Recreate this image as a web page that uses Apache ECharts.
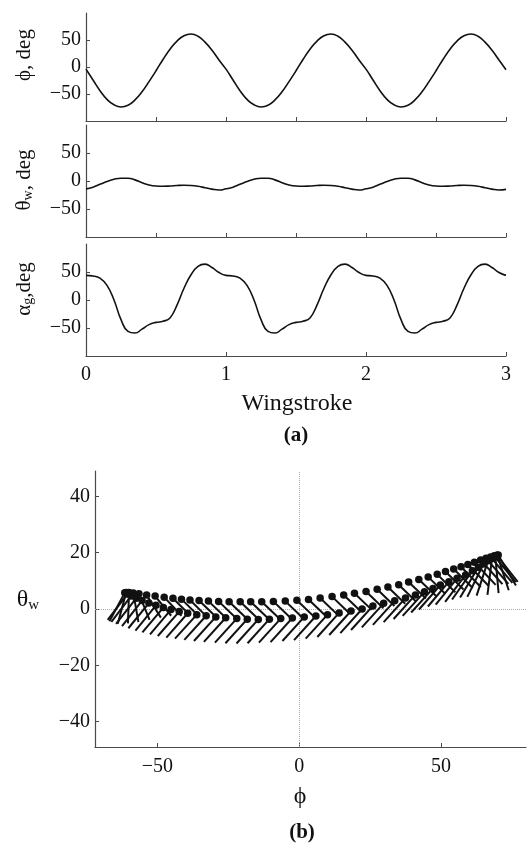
<!DOCTYPE html>
<html>
<head>
<meta charset="utf-8">
<script src="https://cdn.jsdelivr.net/npm/echarts@6/dist/echarts.min.js"></script>
<style>
  html, body { margin: 0; padding: 0; background: #fff; }
  #chart { width: 527px; height: 847px; }
</style>
</head>
<body>
<div id="chart"></div>
<script>
// ---- (a) time histories over three wingstrokes ----
const strokeTime = [
  0, 0.05, 0.1, 0.15, 0.2, 0.25, 0.3, 0.35, 0.4, 0.45, 0.5, 0.55, 0.6, 0.65, 0.7, 0.75, 0.8, 0.85, 0.9, 0.95,
  1, 1.05, 1.1, 1.15, 1.2, 1.25, 1.3, 1.35, 1.4, 1.45, 1.5, 1.55, 1.6, 1.65, 1.7, 1.75, 1.8, 1.85, 1.9, 1.95,
  2, 2.05, 2.1, 2.15, 2.2, 2.25, 2.3, 2.35, 2.4, 2.45, 2.5, 2.55, 2.6, 2.65, 2.7, 2.75, 2.8, 2.85, 2.9, 2.95,
  3
];
const phiDeg = [
  -4, -24, -44, -60, -70, -74, -71, -61, -46, -27, -7, 14, 33, 48, 58, 61, 57, 46, 31, 13,
  -4, -24, -44, -60, -70, -74, -71, -61, -46, -27, -7, 14, 33, 48, 58, 61, 57, 46, 31, 13,
  -4, -24, -44, -60, -70, -74, -71, -61, -46, -27, -7, 14, 33, 48, 58, 61, 57, 46, 31, 13,
  -5
];
const thetaDeg = [
  -14, -11, -6, -1, 3, 5, 5, 2, -3, -7, -9, -9.5, -9, -8, -7.5, -8, -9.5, -12, -14.5, -16,
  -14, -11, -6, -1, 3, 5, 5, 2, -3, -7, -9, -9.5, -9, -8, -7.5, -8, -9.5, -12, -14.5, -16,
  -14, -11, -6, -1, 3, 5, 5, 2, -3, -7, -9, -9.5, -9, -8, -7.5, -8, -9.5, -12, -14.5, -16,
  -15
];
const alphaDeg = [
  44, 43, 39, 26, 0, -35, -56, -59, -52, -44, -40, -38, -32, -9, 21, 45, 60, 64, 58, 49,
  44, 43, 39, 26, 0, -35, -56, -59, -52, -44, -40, -38, -32, -9, 21, 45, 60, 64, 58, 49,
  44, 43, 39, 26, 0, -35, -56, -59, -52, -44, -40, -38, -32, -9, 21, 45, 60, 64, 58, 49,
  44
];
const strokeTicks = [-50, 0, 50];

// ---- (b) wing chord positions, one loop: upper track then lower track ----
const upperPhi = [
  -61.5, -61.0, -60.0, -58.5, -56.5, -53.8, -50.8, -47.6, -44.5, -41.5, -38.5, -35.3, -32.0, -28.4, -24.7,
  -20.8, -17.1, -13.2, -9.1, -4.9, -0.8, 3.3, 7.4, 11.6, 15.7, 19.5, 23.6, 27.5, 31.3, 35.1,
  38.6, 42.2, 45.5, 48.7, 51.6, 54.5, 57.1, 59.5, 61.8, 64.0, 65.9, 67.5, 68.8, 69.7
];
const upperTheta = [
  5.8, 5.9, 5.9, 5.7, 5.4, 5.0, 4.6, 4.2, 3.8, 3.5, 3.2, 3.0, 2.8, 2.7, 2.6,
  2.6, 2.6, 2.6, 2.7, 2.8, 3.1, 3.4, 3.9, 4.4, 5.0, 5.6, 6.2, 7.0, 7.8, 8.6,
  9.6, 10.5, 11.4, 12.3, 13.3, 14.2, 15.0, 15.8, 16.6, 17.4, 18.0, 18.5, 18.9, 19.1
];
const upperChordAngle = [
  -118, -105, -92, -80, -68, -58, -51, -47, -45, -45, -45, -44, -44, -44, -44,
  -44, -44, -44, -44, -44, -44, -44, -44, -44, -44, -44, -44, -44, -44, -44,
  -44, -44, -45, -45, -45, -45, -46, -46, -47, -48, -49, -50, -51, -52
];
const upperChordLength = [
  11.5, 11.5, 11, 10.5, 10, 9.5, 9, 9, 8.5, 8.5, 8.5, 8.5, 8.5, 8.5, 8.5,
  8.5, 8.5, 8.5, 8.5, 8.5, 8.5, 8.5, 8.5, 8.5, 8.5, 8.5, 8.5, 8.5, 8.5, 8.5,
  8.5, 8.5, 8.5, 9, 9, 9.5, 10, 10.5, 11, 11.5, 12, 12, 12, 12
];
const lowerPhi = [
  70.2, 69.9, 69.2, 68.0, 66.6, 65.0, 63.2, 61.1, 58.7, 55.7, 52.8, 49.8, 47.2, 44.2, 41.0,
  37.5, 33.7, 29.8, 26.0, 22.2, 18.3, 14.1, 10.0, 5.9, 1.8, -2.4, -6.5, -10.5, -14.4, -18.3,
  -22.0, -25.9, -29.4, -32.8, -36.1, -39.3, -42.3, -45.2, -47.9, -50.5, -53.0, -55.4, -57.5, -59.3, -60.6
];
const lowerTheta = [
  19.2, 19.0, 18.6, 17.9, 17.1, 16.0, 14.8, 13.6, 12.1, 10.9, 9.7, 8.5, 7.3, 6.1, 5.0,
  3.9, 2.9, 2.0, 1.1, 0.0, -0.7, -1.4, -2.0, -2.5, -2.8, -3.2, -3.4, -3.6, -3.7, -3.6,
  -3.4, -3.1, -2.8, -2.4, -2.0, -1.5, -0.9, -0.2, 0.5, 1.3, 2.1, 3.0, 3.8, 4.6, 5.3
];
const lowerChordAngle = [
  -60, -72, -85, -97, -108, -116, -121, -125, -127, -129, -130, -131, -132, -132, -132,
  -132, -132, -132, -132, -132, -132, -132, -132, -132, -132, -132, -132, -132, -132, -132,
  -132, -132, -132, -132, -132, -131, -131, -130, -130, -129, -129, -128, -128, -127, -127
];
const lowerChordLength = [
  12.5, 13, 13, 13, 13, 13, 12.5, 12.5, 12, 12, 11.5, 11.5, 11.5, 11.5, 11.5,
  11.5, 11.5, 11.5, 11.5, 11.5, 11.5, 11.5, 11.5, 11.5, 11.5, 11.5, 11.5, 11.5, 11.5, 11.5,
  11.5, 11.5, 11.5, 11.5, 11.5, 11.5, 11.5, 11.5, 11.5, 11.5, 11.5, 11.5, 11.5, 11.5, 11.5
];
const phiTicks = [-50, 0, 50];
const thetaTicks = [-40, -20, 0, 20, 40];

const serif = '"Liberation Serif", "DejaVu Serif", serif';
const ink = '#111';
const axisGrey = '#4a4a4a';
const minus = (v) => String(v).replace('-', '\u2212');

const zip = (a, b) => a.map((v, i) => [v, b[i]]);
const wingPoints = zip(upperPhi, upperTheta).concat(zip(lowerPhi, lowerTheta));
const chordData = upperPhi.map((p, i) => [p, upperTheta[i], upperChordAngle[i], upperChordLength[i]])
  .concat(lowerPhi.map((p, i) => [p, lowerTheta[i], lowerChordAngle[i], lowerChordLength[i]]));

const renderChord = (params, api) => {
  const phi = api.value(0);
  const theta = api.value(1);
  const ang = (api.value(2) * Math.PI) / 180;
  const len = api.value(3);
  const p0 = api.coord([phi, theta]);
  const p1 = api.coord([phi + len * Math.cos(ang), theta + len * Math.sin(ang)]);
  return {
    type: 'line',
    shape: { x1: p0[0], y1: p0[1], x2: p1[0], y2: p1[1] },
    style: { stroke: ink, lineWidth: 2 },
  };
};

const strokeXAxis = (gridIndex, showLabels) => ({
  type: 'value',
  gridIndex,
  min: 0,
  max: 3,
  interval: showLabels ? 1 : 0.5,
  axisLine: { onZero: false, lineStyle: { color: axisGrey, width: 1.2 } },
  axisTick: { inside: true, length: 4, lineStyle: { color: axisGrey } },
  axisLabel: { show: showLabels, margin: 9, color: ink, fontFamily: serif, fontSize: 20 },
  splitLine: { show: false },
});
const strokeYAxis = (gridIndex) => ({
  type: 'value',
  gridIndex,
  min: -100,
  max: 100,
  interval: 50,
  axisLine: { show: true, onZero: false, lineStyle: { color: axisGrey, width: 1.2 } },
  axisTick: { inside: true, length: 4, customValues: strokeTicks, lineStyle: { color: axisGrey } },
  axisLabel: { margin: 5, color: ink, fontFamily: serif, fontSize: 20, customValues: strokeTicks, formatter: minus },
  splitLine: { show: false },
});
const strokeLine = (idx, values) => ({
  type: 'line',
  xAxisIndex: idx,
  yAxisIndex: idx,
  data: zip(strokeTime, values),
  smooth: true,
  showSymbol: false,
  lineStyle: { color: ink, width: 1.6 },
});

const chart = echarts.init(document.getElementById('chart'), null, { renderer: 'canvas' });

chart.setOption({
  animation: false,
  backgroundColor: '#fff',
  grid: [
    { left: 86, top: 13, width: 420, height: 108 },
    { left: 86, top: 125, width: 420, height: 112 },
    { left: 86, top: 244, width: 420, height: 112 },
    { left: 95, top: 471, width: 431, height: 276 },
  ],
  xAxis: [
    strokeXAxis(0, false),
    strokeXAxis(1, false),
    strokeXAxis(2, true),
    {
      type: 'value',
      gridIndex: 3,
      min: -72,
      max: 80,
      axisLine: { onZero: false, lineStyle: { color: axisGrey, width: 1.2 } },
      axisTick: { inside: true, length: 4, customValues: phiTicks, lineStyle: { color: axisGrey } },
      axisLabel: { margin: 10, color: ink, fontFamily: serif, fontSize: 20, customValues: phiTicks, formatter: minus },
      splitLine: { show: false },
    },
  ],
  yAxis: [
    strokeYAxis(0),
    strokeYAxis(1),
    strokeYAxis(2),
    {
      type: 'value',
      gridIndex: 3,
      min: -49,
      max: 49,
      axisLine: { show: true, onZero: false, lineStyle: { color: axisGrey, width: 1.2 } },
      axisTick: { inside: true, length: 4, customValues: thetaTicks, lineStyle: { color: axisGrey } },
      axisLabel: { margin: 5, color: ink, fontFamily: serif, fontSize: 20, customValues: thetaTicks, formatter: minus },
      splitLine: { show: false },
    },
  ],
  series: [
    strokeLine(0, phiDeg),
    strokeLine(1, thetaDeg),
    strokeLine(2, alphaDeg),
    {
      // dotted zero lines, kept beneath the wing marks
      type: 'line',
      xAxisIndex: 3,
      yAxisIndex: 3,
      data: [],
      z: 1,
      markLine: {
        silent: true,
        z: 1,
        symbol: 'none',
        label: { show: false },
        lineStyle: { type: 'dotted', color: '#aaa', width: 1 },
        data: [{ xAxis: 0 }, { yAxis: 0 }],
      },
    },
    {
      type: 'custom',
      xAxisIndex: 3,
      yAxisIndex: 3,
      renderItem: renderChord,
      encode: { x: 0, y: 1 },
      data: chordData,
      z: 2,
    },
    {
      type: 'scatter',
      xAxisIndex: 3,
      yAxisIndex: 3,
      data: wingPoints,
      symbol: 'circle',
      symbolSize: 7.5,
      itemStyle: { color: ink, opacity: 1 },
      z: 3,
    },
  ],
  graphic: [
    { type: 'text', x: 24, y: 55, rotation: Math.PI / 2,
      style: { text: '\u03d5, deg', font: '21px ' + serif, fill: ink, align: 'center', verticalAlign: 'middle' } },
    { type: 'text', x: 24, y: 180, rotation: Math.PI / 2,
      style: { text: '{m|\u03b8}{s|w}{m|, deg}', align: 'center', verticalAlign: 'middle',
        rich: { m: { fontFamily: serif, fontSize: 21, fill: ink }, s: { fontFamily: serif, fontSize: 14, fill: ink, padding: [8, 0, 0, 0] } } } },
    { type: 'text', x: 24, y: 289, rotation: Math.PI / 2,
      style: { text: '{m|\u03b1}{s|g}{m|,deg}', align: 'center', verticalAlign: 'middle',
        rich: { m: { fontFamily: serif, fontSize: 21, fill: ink }, s: { fontFamily: serif, fontSize: 14, fill: ink, padding: [8, 0, 0, 0] } } } },
    { type: 'text', x: 297, y: 404,
      style: { text: 'Wingstroke', font: '24px ' + serif, fill: ink, align: 'center', verticalAlign: 'middle' } },
    { type: 'text', x: 296, y: 436,
      style: { text: '(a)', font: 'bold 21px ' + serif, fill: ink, align: 'center', verticalAlign: 'middle' } },
    { type: 'text', x: 28, y: 600,
      style: { text: '{m|\u03b8}{s|w}', align: 'center', verticalAlign: 'middle',
        rich: { m: { fontFamily: serif, fontSize: 24, fill: ink }, s: { fontFamily: serif, fontSize: 15, fill: ink, padding: [10, 0, 0, 0] } } } },
    { type: 'text', x: 300, y: 797,
      style: { text: '\u03d5', font: '24px ' + serif, fill: ink, align: 'center', verticalAlign: 'middle' } },
    { type: 'text', x: 302, y: 833,
      style: { text: '(b)', font: 'bold 21px ' + serif, fill: ink, align: 'center', verticalAlign: 'middle' } },
  ],
});
</script>
</body>
</html>
